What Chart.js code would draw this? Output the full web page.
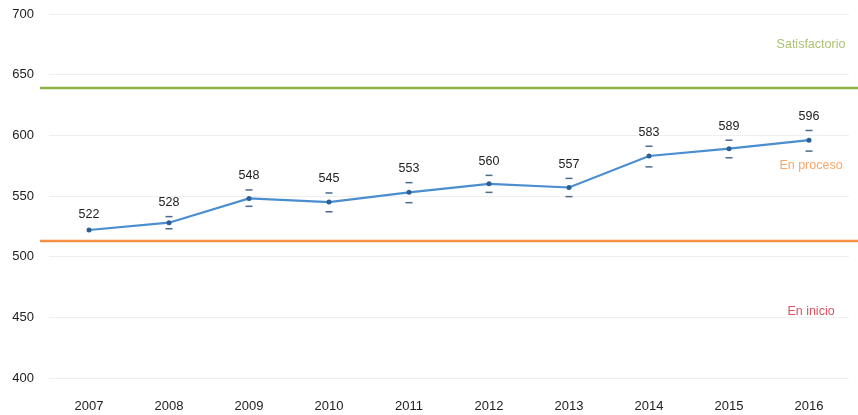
<!DOCTYPE html>
<html>
<head>
<meta charset="utf-8">
<script src="https://cdn.jsdelivr.net/npm/chart.js@4"></script>
<style>
html,body{margin:0;padding:0;background:#fff;}
#wrap{width:858px;height:415px;position:relative;}
</style>
</head>
<body>
<div id="wrap"><canvas id="c" width="858" height="415"></canvas></div>
<script>
const years = ['2007','2008','2009','2010','2011','2012','2013','2014','2015','2016'];
const scores = [522, 528, 548, 545, 553, 560, 557, 583, 589, 596];
const errLow = [522, 523, 541.5, 537, 544.5, 553, 549.5, 574, 581.5, 587];
const errHigh = [523, 533, 555, 552.5, 561, 567, 564.5, 591, 596, 604];
const thresholdValues = [639, 513];
const zoneNames = ['Satisfactorio', 'En proceso', 'En inicio'];
const yTicks = [400, 450, 500, 550, 600, 650, 700];

const FONT = '"Liberation Sans", Arial, sans-serif';

const overlay = {
  id: 'overlay',
  afterDatasetsDraw(chart, args, opts) {
    const ctx = chart.ctx;
    const y = chart.scales.y, x = chart.scales.x;
    ctx.save();
    thresholdValues.forEach((v, i) => {
      const py = y.getPixelForValue(v);
      ctx.strokeStyle = opts.lineColors[i];
      ctx.lineWidth = 2.5;
      ctx.beginPath();
      ctx.moveTo(40, py);
      ctx.lineTo(chart.width, py);
      ctx.stroke();
    });
    ctx.font = '12.5px ' + FONT;
    ctx.textAlign = 'center';
    ctx.textBaseline = 'middle';
    zoneNames.forEach((n, i) => {
      ctx.fillStyle = opts.textColors[i];
      ctx.fillText(n, opts.textX, y.getPixelForValue(opts.textY[i]));
    });
    scores.forEach((s, i) => {
      const px = x.getPixelForValue(i);
      ctx.strokeStyle = '#4a6a8e';
      ctx.lineWidth = 1.5;
      [errLow[i], errHigh[i]].forEach(v => {
        if (Math.abs(v - s) < 2) return;
        const py = y.getPixelForValue(v);
        ctx.beginPath();
        ctx.moveTo(px - 3.5, py);
        ctx.lineTo(px + 3.5, py);
        ctx.stroke();
      });
      ctx.fillStyle = '#222';
      ctx.font = '12.5px ' + FONT;
      ctx.fillText(String(s), px, y.getPixelForValue(errHigh[i]) - 14);
    });
    ctx.restore();
  }
};

new Chart(document.getElementById('c'), {
  type: 'line',
  data: {
    labels: years,
    datasets: [{
      data: scores,
      borderColor: '#4a8ed0',
      borderWidth: 2.2,
      pointRadius: 2.5,
      pointBackgroundColor: '#2c5f98',
      pointBorderWidth: 0,
      tension: 0
    }]
  },
  options: {
    responsive: false,
    animation: false,
    layout: { padding: { top: 14, right: 9, left: 0, bottom: 0 } },
    plugins: {
      legend: { display: false },
      tooltip: { enabled: false },
      overlay: {
        lineColors: ['#8db443', '#f59040'],
        textColors: ['#a9c273', '#f5a868', '#d45462'],
        textX: 811,
        textY: [674.5, 575.5, 455]
      }
    },
    scales: {
      x: {
        offset: true,
        afterFit: s => { s.height = 37; },
        grid: { display: false, drawTicks: false },
        border: { display: false },
        ticks: { color: '#222', font: { family: FONT, size: 13 }, padding: 21, maxRotation: 0 }
      },
      y: {
        min: 400, max: 700,
        afterBuildTicks: s => { s.ticks = yTicks.map(v => ({ value: v })); },
        afterFit: s => { s.width = 49; s.paddingTop = 0; s.paddingBottom = 0; },
        grid: { color: '#efefef', lineWidth: 1, drawTicks: false },
        border: { display: false },
        ticks: { color: '#222', font: { family: FONT, size: 13 }, padding: 15 }
      }
    }
  },
  plugins: [overlay]
});
</script>
</body>
</html>
